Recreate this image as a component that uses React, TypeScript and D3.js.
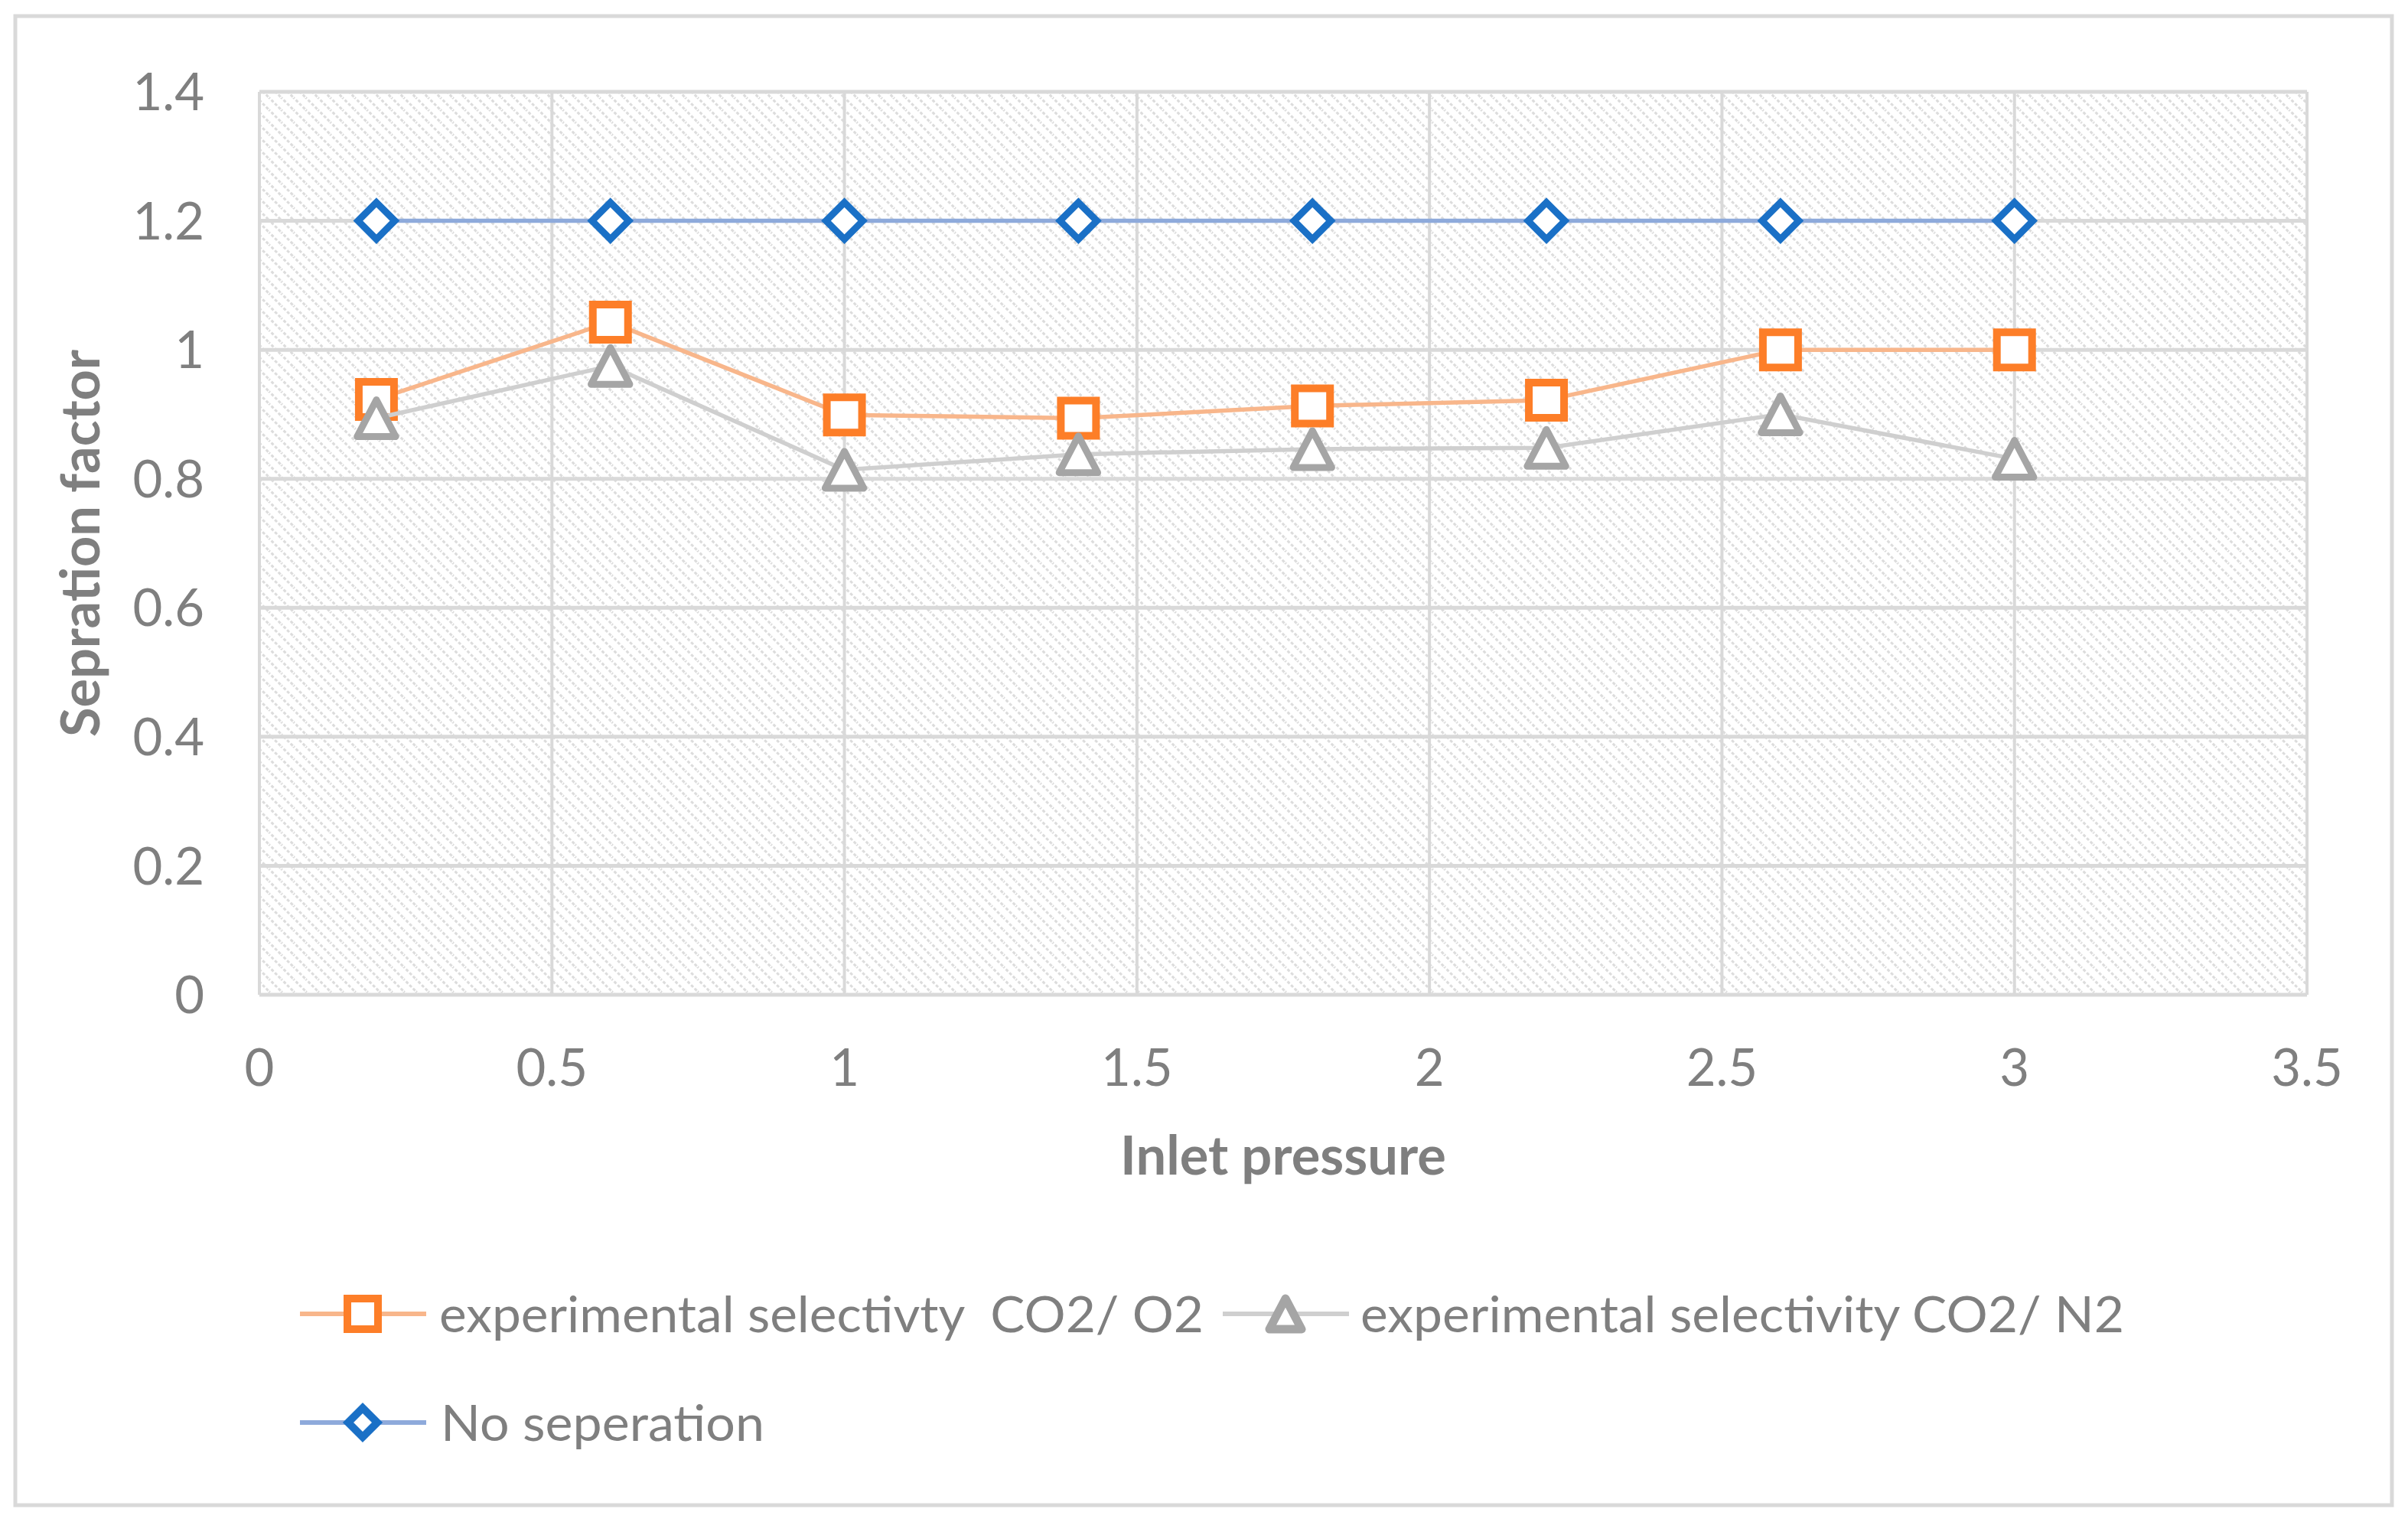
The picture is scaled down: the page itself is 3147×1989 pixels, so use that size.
import { useEffect, useRef } from 'react';
import * as d3 from 'd3';

// inlet pressure (x) for every series
const pressure = [0.2, 0.6, 1.0, 1.4, 1.8, 2.2, 2.6, 3.0];
const selectivityO2 = [0.923, 1.043, 0.899, 0.894, 0.913, 0.922, 1.0, 1.0];
const selectivityN2 = [0.894, 0.975, 0.814, 0.838, 0.846, 0.848, 0.9, 0.831];
const noSeparation = [1.2, 1.2, 1.2, 1.2, 1.2, 1.2, 1.2, 1.2];

const xTicks = [0, 0.5, 1, 1.5, 2, 2.5, 3, 3.5];
const yTicks = [0, 0.2, 0.4, 0.6, 0.8, 1, 1.2, 1.4];

const seriesNames = ['experimental selectivty  CO2/ O2', 'experimental selectivity CO2/ N2', 'No seperation'];

const W = 3147;
const H = 1989;
const font = "Lato, Carlito, Calibri, 'Open Sans', sans-serif";
const textColor = '#7f7f7f';
const gridColor = '#d9d9d9';

type Marker = 'square' | 'triangle' | 'diamond';

function markerPath(kind: Marker, s: number) {
  if (kind === 'square') return `M${-s},${-s}H${s}V${s}H${-s}Z`;
  if (kind === 'diamond') return `M0,${-s}L${s},0L0,${s}L${-s},0Z`;
  return `M0,${-s}L${s * 1.05},${s}L${-s * 1.05},${s}Z`;
}

export default function App() {
  const svgRef = useRef<SVGSVGElement | null>(null);

  useEffect(() => {
    if (!svgRef.current) return;
    const svg = d3.select(svgRef.current);
    svg.selectAll('*').remove();

    const margin = { left: 339, right: W - 3015, top: 120, bottom: H - 1300 };

    const x = d3.scaleLinear().domain([0, 3.5]).range([margin.left, W - margin.right]);
    const y = d3.scaleLinear().domain([0, 1.4]).range([H - margin.bottom, margin.top]);

    const series = [
      { name: seriesNames[0], values: selectivityO2, line: '#f8b68b', mark: '#fd7e28', kind: 'square' as Marker, size: 23, legendSize: 20, sw: 10 },
      { name: seriesNames[1], values: selectivityN2, line: '#cfcfcf', mark: '#a5a5a5', kind: 'triangle' as Marker, size: 24, legendSize: 20, sw: 9 },
      { name: seriesNames[2], values: noSeparation, line: '#8eaadb', mark: '#1a70c6', kind: 'diamond' as Marker, size: 24, legendSize: 19, sw: 9 }
    ];

    // hatch pattern for plot area (light downward diagonal)
    const defs = svg.append('defs');
    const pat = defs.append('pattern')
      .attr('id', 'hatch')
      .attr('patternUnits', 'userSpaceOnUse')
      .attr('width', 16)
      .attr('height', 16);
    pat.append('rect').attr('width', 16).attr('height', 16).attr('fill', '#fff');
    pat.append('path')
      .attr('d', 'M-2,-2L18,18M-10,6L2,18M6,-10L18,2')
      .attr('stroke', '#dcdcdc')
      .attr('stroke-width', 3)
      .attr('stroke-dasharray', '4,2.5');

    // chart area border
    svg.append('rect')
      .attr('x', 20).attr('y', 21)
      .attr('width', 3106).attr('height', 1946)
      .attr('fill', '#fff')
      .attr('stroke', gridColor)
      .attr('stroke-width', 5);

    // plot area
    svg.append('rect')
      .attr('x', x(0)).attr('y', y(1.4))
      .attr('width', x(3.5) - x(0)).attr('height', y(0) - y(1.4))
      .attr('fill', 'url(#hatch)');

    // gridlines
    svg.append('g')
      .selectAll('line.h')
      .data(yTicks)
      .join('line')
      .attr('x1', x(0)).attr('x2', x(3.5))
      .attr('y1', d => y(d)).attr('y2', d => y(d))
      .attr('stroke', gridColor).attr('stroke-width', 5);

    svg.append('g')
      .selectAll('line.v')
      .data(xTicks)
      .join('line')
      .attr('x1', d => x(d)).attr('x2', d => x(d))
      .attr('y1', y(0)).attr('y2', y(1.4))
      .attr('stroke', gridColor).attr('stroke-width', 4);

    // tick labels
    svg.append('g')
      .selectAll('text')
      .data(yTicks)
      .join('text')
      .attr('x', 267)
      .attr('y', d => y(d))
      .attr('dy', '0.36em')
      .attr('text-anchor', 'end')
      .attr('font-family', font)
      .attr('font-size', 67)
      .attr('fill', textColor)
      .text(d => String(d));

    svg.append('g')
      .selectAll('text')
      .data(xTicks)
      .join('text')
      .attr('x', d => x(d))
      .attr('y', 1419)
      .attr('text-anchor', 'middle')
      .attr('font-family', font)
      .attr('font-size', 67)
      .attr('fill', textColor)
      .text(d => String(d));

    // axis titles
    svg.append('text')
      .attr('x', (x(0) + x(3.5)) / 2)
      .attr('y', 1535)
      .attr('text-anchor', 'middle')
      .attr('font-family', font)
      .attr('font-weight', 'bold')
      .attr('font-size', 70)
      .attr('fill', textColor)
      .attr('textLength', 426)
      .attr('lengthAdjust', 'spacingAndGlyphs')
      .text('Inlet pressure');

    svg.append('text')
      .attr('transform', `translate(130,${(y(0) + y(1.4)) / 2}) rotate(-90)`)
      .attr('text-anchor', 'middle')
      .attr('font-family', font)
      .attr('font-weight', 'bold')
      .attr('font-size', 70)
      .attr('fill', textColor)
      .attr('textLength', 506)
      .attr('lengthAdjust', 'spacingAndGlyphs')
      .text('Sepration factor');

    // series: line then markers
    const line = d3.line<number>()
      .x((d, i) => x(pressure[i]))
      .y(d => y(d));

    series.forEach(s => {
      svg.append('path')
        .datum(s.values)
        .attr('d', line)
        .attr('fill', 'none')
        .attr('stroke', s.line)
        .attr('stroke-width', 5.5);

      svg.append('g')
        .selectAll('path')
        .data(s.values)
        .join('path')
        .attr('transform', (d, i) => `translate(${x(pressure[i])},${y(d)})`)
        .attr('d', markerPath(s.kind, s.size))
        .attr('fill', '#fff')
        .attr('stroke', s.mark)
        .attr('stroke-width', s.sw)
        .attr('stroke-linejoin', s.kind === 'triangle' ? 'round' : 'miter');
    });

    // legend
    const legendItems = [
      { s: series[0], lx: 392, ty: 1717, tx: 574, tw: 999 },
      { s: series[1], lx: 1598, ty: 1717, tx: 1778, tw: 998 },
      { s: series[2], lx: 392, ty: 1859, tx: 576, tw: 423 }
    ];

    legendItems.forEach(item => {
      const g = svg.append('g');
      g.append('line')
        .attr('x1', item.lx).attr('x2', item.lx + 165)
        .attr('y1', item.ty).attr('y2', item.ty)
        .attr('stroke', item.s.line)
        .attr('stroke-width', 6);
      g.append('path')
        .attr('transform', `translate(${item.lx + 82},${item.ty})`)
        .attr('d', markerPath(item.s.kind, item.s.legendSize))
        .attr('fill', '#fff')
        .attr('stroke', item.s.mark)
        .attr('stroke-width', item.s.kind === 'triangle' ? 11 : 10)
        .attr('stroke-linejoin', item.s.kind === 'triangle' ? 'round' : 'miter');
      g.append('text')
        .attr('x', item.tx)
        .attr('y', item.ty)
        .attr('dy', '0.36em')
        .attr('font-family', font)
        .attr('font-size', 66)
        .attr('fill', textColor)
        .attr('textLength', item.tw)
        .attr('lengthAdjust', 'spacingAndGlyphs')
        .style('white-space', 'pre')
        .text(item.s.name);
    });
  }, []);

  return (
    <div style={{ position: 'absolute', left: 0, top: 0 }}>
      <svg ref={svgRef} width={W} height={H}></svg>
    </div>
  );
}
